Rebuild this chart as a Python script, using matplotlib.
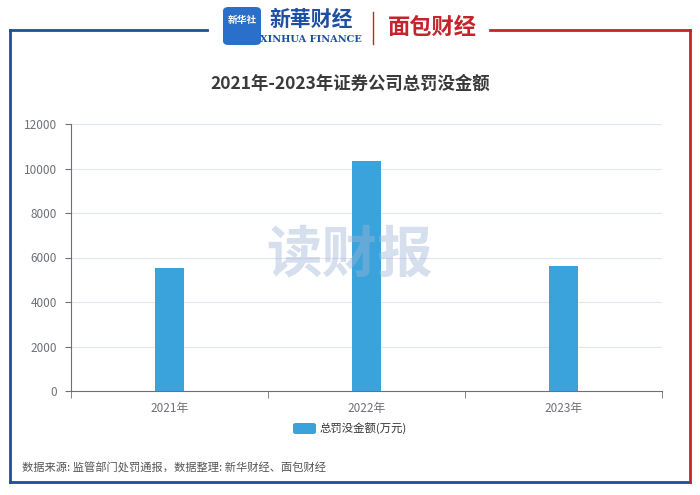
import matplotlib.pyplot as plt
from matplotlib.patches import FancyBboxPatch
from matplotlib.lines import Line2D

plt.rcParams['font.family'] = ['Noto Sans CJK SC', 'DejaVu Sans']

years = ['2021年', '2022年', '2023年']
fines = [5540, 10340, 5610]  # 万元
yticks = [0, 2000, 4000, 6000, 8000, 10000, 12000]

W, H = 700, 495
fig = plt.figure(figsize=(7, 4.95), dpi=100)

def fx(px):
    return px / W

def fy(py):
    return 1 - py / H

# frame: blue on the left, red on the right
blue = '#1f4e9c'
red = '#c4242b'
fig.add_artist(Line2D([fx(10), fx(10)], [fy(30), fy(482)], color=blue, lw=2))
fig.add_artist(Line2D([fx(10), fx(690)], [fy(482), fy(482)], color=blue, lw=2))
fig.add_artist(Line2D([fx(690), fx(690)], [fy(30), fy(482)], color=red, lw=2))
fig.add_artist(Line2D([fx(10), fx(207)], [fy(30), fy(30)], color=blue, lw=2))
fig.add_artist(Line2D([fx(490), fx(690)], [fy(30), fy(30)], color=red, lw=2))

# logo area
fig.add_artist(FancyBboxPatch((fx(223), fy(45)), fx(38), 38 / H,
                              boxstyle='round,pad=0,rounding_size=0.008',
                              fc='#2a6fc9', ec='none'))
fig.text(fx(242), fy(20), '新华社', color='white', fontsize=7, ha='center',
         va='center', fontweight='bold')
fig.text(fx(311), fy(19), '新華财经', color='#1d4fa3', fontsize=15, ha='center',
         va='center', fontweight='bold', fontstyle='italic')
fig.text(fx(311), fy(40), 'XINHUA FINANCE', color='#1d4fa3', fontsize=7,
         ha='center', va='center', family='DejaVu Serif', fontweight='bold')
fig.add_artist(Line2D([fx(373), fx(373)], [fy(12), fy(44)], color=red, lw=1))
fig.text(fx(432), fy(27), '面包财经', color=red, fontsize=16, ha='center',
         va='center', fontweight='bold')

# title
fig.text(fx(350), fy(84), '2021年-2023年证券公司总罚没金额', fontsize=12.5,
         fontweight='bold', color='#3a3a3a', ha='center', va='center')

ax = fig.add_axes([fx(71), fy(391), fx(662 - 71), (391 - 124) / H])
ax.patch.set_alpha(0)
x = range(len(years))
ax.bar(x, fines, width=0.15, color='#3aa3db', zorder=3,
       label='总罚没金额(万元)')
ax.set_xlim(-0.5, 2.5)
ax.set_ylim(0, 12000)
ax.set_yticks(yticks)
ax.set_yticklabels([str(v) for v in yticks])
ax.set_xticks(list(x))
ax.set_xticklabels(years)
ax.set_xticks([-0.5, 0.5, 1.5, 2.5], minor=True)
ax.tick_params(axis='x', which='major', length=0, pad=8, labelsize=8.5,
               labelcolor='#6e7079')
ax.tick_params(axis='x', which='minor', length=5, color='#6e7079')
ax.tick_params(axis='y', length=4, color='#6e7079', labelsize=8.5,
               labelcolor='#6e7079', pad=6)
ax.grid(axis='y', color='#e0e6f1', lw=0.8, zorder=0)
for s in ['top', 'right']:
    ax.spines[s].set_visible(False)
ax.spines['left'].set_color('#6e7079')
ax.spines['bottom'].set_color('#6e7079')

# watermark, drawn over the bars
fig.text(fx(350), fy(256), '读财报', fontsize=40, fontweight='bold',
         color='#9fb3d6', alpha=0.42, ha='center', va='center', zorder=10)

# legend
fig.add_artist(FancyBboxPatch((fx(293), fy(434)), fx(23), 11 / H,
                              boxstyle='round,pad=0,rounding_size=0.004',
                              fc='#3aa3db', ec='none'))
fig.text(fx(320), fy(428), '总罚没金额(万元)', fontsize=8.2, color='#333333',
         ha='left', va='center')

# source
fig.text(fx(22), fy(468), '数据来源: 监管部门处罚通报，数据整理: 新华财经、面包财经',
         fontsize=8.1, color='#555555', ha='left', va='center')

fig.savefig('out.png', dpi=100)
